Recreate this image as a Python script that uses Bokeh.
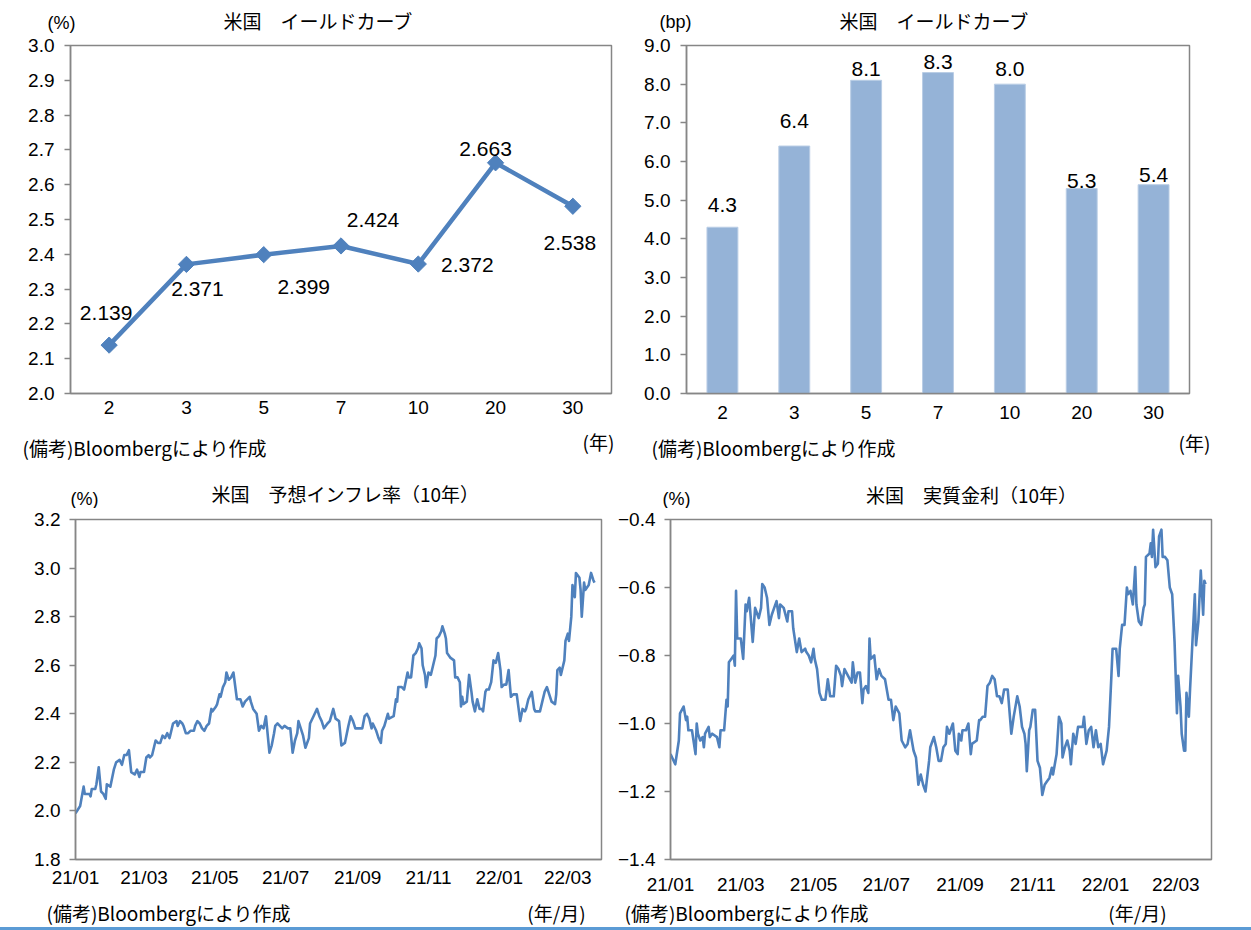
import pandas as pd
from bokeh.plotting import figure
from bokeh.models import FactorRange, Range1d, FixedTicker, ColumnDataSource, Div
from bokeh.layouts import column, row
from bokeh.core.properties import value
from bokeh.embed import file_html
from bokeh.resources import INLINE

JP = "Noto Sans CJK JP"
NUM = "Liberation Sans"
LINE_BLUE = "#4F81BD"
BAR_BLUE = "#95B3D7"
AXIS_GREY = "#868686"

# ---- yield curve (level, %) and its change (bp) ----
maturities = ["2", "3", "5", "7", "10", "20", "30"]
yields = [2.139, 2.371, 2.399, 2.424, 2.372, 2.663, 2.538]
yield_change_bp = [4.3, 6.4, 8.1, 8.3, 8.0, 5.3, 5.4]

yield_ticks = [2.0, 2.1, 2.2, 2.3, 2.4, 2.5, 2.6, 2.7, 2.8, 2.9, 3.0]
yield_tick_labels = ["2.0", "2.1", "2.2", "2.3", "2.4", "2.5", "2.6", "2.7", "2.8", "2.9", "3.0"]
bp_ticks = [0, 1, 2, 3, 4, 5, 6, 7, 8, 9]
bp_tick_labels = ["0.0", "1.0", "2.0", "3.0", "4.0", "5.0", "6.0", "7.0", "8.0", "9.0"]

# ---- 10y breakeven inflation and 10y real yield (calendar days since 2021-01-01) ----
bei_day = [
    0, 4, 7, 8, 12, 13, 14, 17, 18, 20,
    22, 24, 26, 27, 30, 33, 35, 38, 40, 42,
    44, 46, 48, 51, 53, 55, 56, 59, 61, 63,
    64, 66, 69, 71, 73, 75, 77, 79, 81, 82,
    84, 87, 88, 90, 92, 93, 95, 97, 99, 102,
    103, 105, 107, 109, 111, 113, 115, 117, 118, 121,
    122, 124, 125, 127, 129, 130, 132, 134, 136, 139,
    142, 144, 146, 150, 151, 153, 156, 158, 160, 162,
    164, 167, 169, 171, 172, 174, 176, 178, 180, 183,
    185, 187, 189, 191, 192, 194, 196, 198, 201, 202,
    205, 206, 208, 210, 212, 214, 217, 219, 222, 224,
    227, 229, 232, 235, 237, 239, 241, 244, 247, 249,
    251, 253, 255, 256, 259, 261, 263, 264, 266, 269,
    270, 274, 276, 277, 278, 281, 283, 286, 287, 289,
    291, 293, 295, 296, 298, 299, 301, 302, 304, 306,
    308, 310, 311, 313, 315, 316, 318, 319, 320, 323,
    326, 327, 329, 331, 332, 333, 334, 337, 339, 341,
    342, 344, 346, 348, 350, 351, 353, 354, 356, 358,
    360, 362, 364, 366, 367, 369, 371, 373, 375, 377,
    380, 383, 385, 387, 388, 390, 393, 395, 396, 400,
    402, 404, 406, 408, 410, 413, 414, 415, 417, 418,
    421, 422, 424, 425, 427, 428, 430, 431, 434, 435,
    436, 438, 439, 442, 444, 446, 447,
]
bei = [
    1.99, 2.02, 2.10, 2.07, 2.07, 2.06, 2.09, 2.09, 2.11, 2.18,
    2.08, 2.07, 2.05, 2.11, 2.10, 2.17, 2.20, 2.21, 2.19, 2.23,
    2.23, 2.25, 2.16, 2.15, 2.17, 2.14, 2.16, 2.16, 2.22, 2.23,
    2.22, 2.23, 2.29, 2.28, 2.28, 2.31, 2.30, 2.32, 2.30, 2.32,
    2.36, 2.37, 2.35, 2.37, 2.36, 2.35, 2.32, 2.32, 2.33, 2.33,
    2.35, 2.37, 2.36, 2.34, 2.33, 2.35, 2.36, 2.42, 2.41, 2.43,
    2.44, 2.48, 2.47, 2.51, 2.53, 2.57, 2.54, 2.55, 2.57, 2.46,
    2.46, 2.43, 2.45, 2.47, 2.45, 2.42, 2.40, 2.33, 2.35, 2.34,
    2.39, 2.24, 2.27, 2.32, 2.35, 2.36, 2.35, 2.34, 2.35, 2.34,
    2.34, 2.24, 2.29, 2.32, 2.37, 2.34, 2.31, 2.26, 2.30, 2.36,
    2.39, 2.40, 2.42, 2.39, 2.37, 2.34, 2.36, 2.37, 2.42, 2.38,
    2.37, 2.27, 2.28, 2.35, 2.39, 2.37, 2.34, 2.34, 2.34, 2.39,
    2.40, 2.38, 2.34, 2.36, 2.33, 2.30, 2.28, 2.33, 2.35, 2.40,
    2.38, 2.39, 2.46, 2.45, 2.51, 2.51, 2.50, 2.57, 2.55, 2.55,
    2.64, 2.65, 2.67, 2.69, 2.67, 2.60, 2.56, 2.51, 2.57, 2.56,
    2.60, 2.64, 2.71, 2.72, 2.74, 2.76, 2.73, 2.71, 2.65, 2.63,
    2.62, 2.55, 2.55, 2.53, 2.43, 2.47, 2.44, 2.45, 2.56, 2.49,
    2.45, 2.41, 2.46, 2.42, 2.42, 2.41, 2.49, 2.50, 2.50, 2.53,
    2.62, 2.61, 2.65, 2.58, 2.51, 2.52, 2.52, 2.58, 2.47, 2.48,
    2.48, 2.37, 2.42, 2.41, 2.42, 2.46, 2.49, 2.42, 2.41, 2.41,
    2.45, 2.49, 2.51, 2.48, 2.45, 2.44, 2.48, 2.58, 2.59, 2.56,
    2.62, 2.70, 2.73, 2.70, 2.80, 2.93, 2.88, 2.98, 2.96, 2.91,
    2.80, 2.94, 2.91, 2.93, 2.98, 2.95, 2.94,
]

real_day = [
    0, 4, 7, 8, 11, 13, 14, 15, 18, 21,
    22, 23, 25, 27, 28, 29, 32, 33, 35, 39,
    41, 42, 45, 47, 48, 49, 51, 53, 54, 55,
    56, 59, 61, 63, 64, 66, 69, 71, 72, 74,
    76, 77, 79, 81, 83, 85, 87, 89, 91, 92,
    95, 98, 99, 102, 103, 106, 108, 110, 113, 114,
    116, 118, 120, 121, 123, 125, 127, 130, 132, 134,
    137, 139, 141, 143, 144, 146, 149, 152, 153, 155,
    157, 159, 161, 162, 164, 166, 167, 168, 171, 173,
    175, 177, 180, 183, 185, 187, 189, 192, 194, 197,
    199, 201, 204, 206, 208, 210, 212, 214, 217, 218,
    221, 223, 225, 227, 229, 231, 232, 234, 237, 239,
    241, 242, 244, 245, 248, 250, 252, 253, 257, 259,
    260, 262, 264, 266, 268, 270, 272, 274, 276, 278,
    280, 283, 286, 288, 290, 291, 293, 295, 297, 298,
    299, 301, 302, 304, 306, 308, 310, 312, 314, 316,
    318, 320, 321, 324, 326, 328, 329, 331, 333, 335,
    336, 338, 340, 342, 344, 346, 347, 349, 351, 353,
    355, 357, 359, 361, 363, 366, 368, 370, 371, 374,
    376, 377, 379, 381, 383, 384, 386, 388, 390, 391,
    393, 395, 397, 398, 399, 402, 403, 404, 405, 407,
    409, 410, 412, 413, 415, 417, 419, 421, 423, 425,
    426, 428, 429, 431, 432, 433, 435, 436, 438, 440,
    441, 443, 445, 447, 448, 449,
]
real = [
    -1.09, -1.12, -1.05, -0.97, -0.95, -0.99, -0.98, -1.02, -1.02, -1.09,
    -1.00, -1.03, -1.05, -1.04, -1.07, -1.03, -1.01, -1.04, -1.03, -1.04,
    -1.07, -1.02, -1.02, -0.93, -0.95, -0.82, -0.81, -0.80, -0.83, -0.61,
    -0.75, -0.75, -0.81, -0.65, -0.67, -0.63, -0.76, -0.66, -0.67, -0.69,
    -0.66, -0.59, -0.60, -0.63, -0.71, -0.68, -0.66, -0.64, -0.69, -0.65,
    -0.66, -0.70, -0.67, -0.67, -0.72, -0.79, -0.75, -0.79, -0.78, -0.79,
    -0.80, -0.82, -0.78, -0.81, -0.84, -0.91, -0.93, -0.93, -0.87, -0.92,
    -0.92, -0.83, -0.84, -0.86, -0.89, -0.84, -0.86, -0.88, -0.82, -0.88,
    -0.85, -0.85, -0.94, -0.90, -0.89, -0.91, -0.75, -0.81, -0.80, -0.87,
    -0.84, -0.86, -0.87, -0.93, -0.93, -0.99, -0.95, -0.97, -1.05, -1.07,
    -1.06, -1.02, -1.08, -1.10, -1.18, -1.15, -1.18, -1.20, -1.11, -1.07,
    -1.04, -1.07, -1.11, -1.11, -1.07, -1.06, -1.01, -1.03, -1.00, -1.08,
    -1.09, -1.03, -1.05, -1.02, -1.02, -1.00, -1.09, -1.06, -1.05, -0.99,
    -0.99, -0.98, -0.98, -0.89, -0.88, -0.86, -0.87, -0.92, -0.92, -0.94,
    -0.90, -0.90, -1.03, -0.98, -0.94, -0.92, -0.95, -1.01, -1.03, -1.06,
    -1.14, -1.02, -1.01, -0.96, -0.96, -1.11, -1.13, -1.21, -1.18, -1.17,
    -1.16, -1.13, -1.15, -1.09, -0.98, -1.00, -1.10, -1.07, -1.05, -1.08,
    -1.12, -1.03, -1.06, -1.01, -1.01, -1.01, -0.98, -1.06, -1.02, -1.01,
    -1.07, -1.02, -1.07, -1.06, -1.12, -1.08, -1.01, -0.86, -0.78, -0.78,
    -0.86, -0.78, -0.71, -0.71, -0.60, -0.62, -0.61, -0.65, -0.54, -0.65,
    -0.70, -0.71, -0.66, -0.65, -0.51, -0.50, -0.47, -0.51, -0.43, -0.54,
    -0.53, -0.45, -0.43, -0.51, -0.51, -0.52, -0.60, -0.62, -0.76, -0.97,
    -0.86, -0.95, -1.03, -1.08, -1.08, -0.91, -0.98, -0.90, -0.76, -0.62,
    -0.77, -0.70, -0.55, -0.68, -0.58, -0.59,
]

bei_ticks = [1.8, 2.0, 2.2, 2.4, 2.6, 2.8, 3.0, 3.2]
bei_tick_labels = ["1.8", "2.0", "2.2", "2.4", "2.6", "2.8", "3.0", "3.2"]
real_ticks = [-1.4, -1.2, -1.0, -0.8, -0.6, -0.4]
real_tick_labels = ["\u22121.4", "\u22121.2", "\u22121.0", "\u22120.8", "\u22120.6", "\u22120.4"]
month_ticks = ["2021-01-01", "2021-03-01", "2021-05-01", "2021-07-01",
               "2021-09-01", "2021-11-01", "2022-01-01", "2022-03-01"]
month_tick_labels = ["21/01", "21/03", "21/05", "21/07", "21/09", "21/11", "22/01", "22/03"]

series_start = pd.Timestamp("2021-01-01")
NOTE = "(備考)Bloombergにより作成"
PAGE_W = 1251


def ms(ts):
    return pd.Timestamp(ts).value / 1e6


def chart(width, height, border, x_range, y_range, **kw):
    """Plot area with its axes; border = (left, top, right, bottom) in pixels."""
    left, top, right, bottom = border
    p = figure(width=width, height=height, x_range=x_range, y_range=y_range,
               output_backend="svg", toolbar_location=None, title=None,
               min_border_left=left, min_border_top=top,
               min_border_right=right, min_border_bottom=bottom, **kw)
    p.xgrid.visible = False
    p.ygrid.visible = False
    p.background_fill_color = "white"
    p.border_fill_color = "white"
    p.outline_line_color = AXIS_GREY
    p.outline_line_width = 1.5
    for ax in (p.xaxis[0], p.yaxis[0]):
        ax.axis_line_color = AXIS_GREY
        ax.axis_line_width = 1.5
        ax.major_label_text_font = NUM
        ax.major_label_text_font_size = "19px"
        ax.major_label_text_color = "black"
        ax.minor_tick_line_color = None
    p.yaxis.major_tick_line_color = AXIS_GREY
    p.yaxis.major_tick_line_width = 1.5
    p.yaxis.major_tick_out = 6
    p.yaxis.major_tick_in = 0
    p.xaxis.major_tick_line_color = None
    p.xaxis.major_tick_out = 0
    p.xaxis.major_tick_in = 0
    return p


def text_strip(height):
    """Full-width blank strip whose data units are its own pixels (y downwards)."""
    p = figure(width=PAGE_W, height=height, x_range=Range1d(0, PAGE_W), y_range=Range1d(height, 0),
               output_backend="svg", toolbar_location=None, title=None,
               x_axis_location=None, y_axis_location=None, min_border=0)
    p.outline_line_color = None
    p.background_fill_color = "white"
    p.border_fill_color = "white"
    for g in p.grid:
        g.visible = False
    return p


def put(p, x, y, text, align="center", size=19, font=JP):
    p.text(x=[x], y=[y], text=[text], text_align=align, text_baseline="middle",
           text_font=value(font), text_font_size=f"{size}px", text_color="black")


def set_yticks(p, ticks, labels, standoff):
    p.yaxis.ticker = FixedTicker(ticks=ticks)
    p.yaxis.major_label_overrides = dict(zip(ticks, labels))
    p.yaxis.major_label_standoff = standoff


# ---------------- top headings ----------------
top_head = text_strip(34)
put(top_head, 318, 20, "米国\u3000イールドカーブ")
put(top_head, 61, 22, "(%)", size=18, font=NUM)
put(top_head, 934, 20, "米国\u3000イールドカーブ")
put(top_head, 675, 21, "(bp)", size=18, font=NUM)

# ---------------- top left: yield curve ----------------
p1 = chart(625, 393, (70, 11, 14, 34), FactorRange(*maturities), Range1d(2.0, 3.0))
set_yticks(p1, yield_ticks, yield_tick_labels, 10)
p1.xaxis.major_label_standoff = 7
src1 = ColumnDataSource(dict(
    m=maturities, v=yields, t=[f"{v:.3f}" for v in yields],
    dx=[-3, 11, 40, 32, 49, -10, -3], dy=[-32, 25, 32, -26, 1, -14, 37]))
p1.line("m", "v", source=src1, line_color=LINE_BLUE, line_width=4.5, line_join="round")
p1.scatter("m", "v", source=src1, marker="square", angle=0.785398, size=11.5,
           fill_color=LINE_BLUE, line_color=LINE_BLUE)
p1.text("m", "v", text="t", source=src1, x_offset="dx", y_offset="dy",
        text_align="center", text_baseline="middle", text_font=value(NUM),
        text_font_size="21px", text_color="black")

# ---------------- top right: change in yields (bp) ----------------
p2 = chart(626, 393, (61, 11, 62, 34), FactorRange(*maturities), Range1d(0, 9))
set_yticks(p2, bp_ticks, bp_tick_labels, 10)
p2.xaxis.major_label_standoff = 12
src2 = ColumnDataSource(dict(
    m=maturities, v=yield_change_bp, t=[f"{v:.1f}" for v in yield_change_bp],
    dy=[-22, -25, -11, -11, -15, -8, -10]))
p2.vbar(x="m", top="v", width=0.43, source=src2, fill_color=BAR_BLUE,
        line_color="#B9CDE5", line_width=1)
p2.text("m", "v", text="t", source=src2, y_offset="dy",
        text_align="center", text_baseline="middle", text_font=value(NUM),
        text_font_size="21px", text_color="black")

# ---------------- top notes ----------------
top_foot = text_strip(43)
put(top_foot, 598, 14, "(年)")
put(top_foot, 22, 20, NOTE, align="left")
put(top_foot, 1194, 15, "(年)")
put(top_foot, 651, 20, NOTE, align="left")

# ---------------- bottom headings ----------------
bot_head = text_strip(38)
put(bot_head, 345, 23, "米国\u3000予想インフレ率（10年）")
put(bot_head, 84, 28, "(%)", size=18, font=NUM)
put(bot_head, 971, 24, "米国\u3000実質金利（10年）")
put(bot_head, 676, 28, "(%)", size=18, font=NUM)

# ---------------- bottom left: breakeven inflation ----------------
bei_dates = [series_start + pd.Timedelta(days=d) for d in bei_day]
real_dates = [series_start + pd.Timedelta(days=d) for d in real_day]
month_ms = [ms(t) for t in month_ticks]

x3 = (ms(series_start), ms(series_start + pd.Timedelta(days=453)))
p3 = chart(608, 389, (75, 11, 7, 36), Range1d(*x3), Range1d(1.8, 3.2), x_axis_type="datetime")
set_yticks(p3, bei_ticks, bei_tick_labels, 9)
p3.xaxis.ticker = FixedTicker(ticks=month_ms)
p3.xaxis.major_label_overrides = dict(zip(month_ms, month_tick_labels))
p3.xaxis.major_label_standoff = 7
p3.line(bei_dates, bei, line_color=LINE_BLUE, line_width=2.6, line_join="round")

# ---------------- bottom right: real yield ----------------
x4 = (ms(series_start), ms(series_start + pd.Timedelta(days=454)))
p4 = chart(643, 389, (62, 11, 40, 36), Range1d(*x4), Range1d(-1.4, -0.4), x_axis_type="datetime")
set_yticks(p4, real_ticks, real_tick_labels, 9)
p4.xaxis.ticker = FixedTicker(ticks=month_ms)
p4.xaxis.major_label_overrides = dict(zip(month_ms, month_tick_labels))
p4.xaxis.major_label_standoff = 14
p4.line(real_dates, real, line_color=LINE_BLUE, line_width=2.6, line_join="round")

# ---------------- bottom notes ----------------
bot_foot = text_strip(30)
put(bot_foot, 556, 15, "(年/月)")
put(bot_foot, 46, 15, NOTE, align="left")
put(bot_foot, 624, 15, NOTE, align="left")
put(bot_foot, 1137, 15, "(年/月)")

rule = Div(text="", width=PAGE_W, height=3, margin=0,
           styles={"background-color": "#5B9BD5"})

layout = column(top_head, row(p1, p2), top_foot, bot_head, row(p3, p4), bot_foot, rule)

with open("out.html", "w") as fh:
    fh.write(file_html(layout, INLINE))
